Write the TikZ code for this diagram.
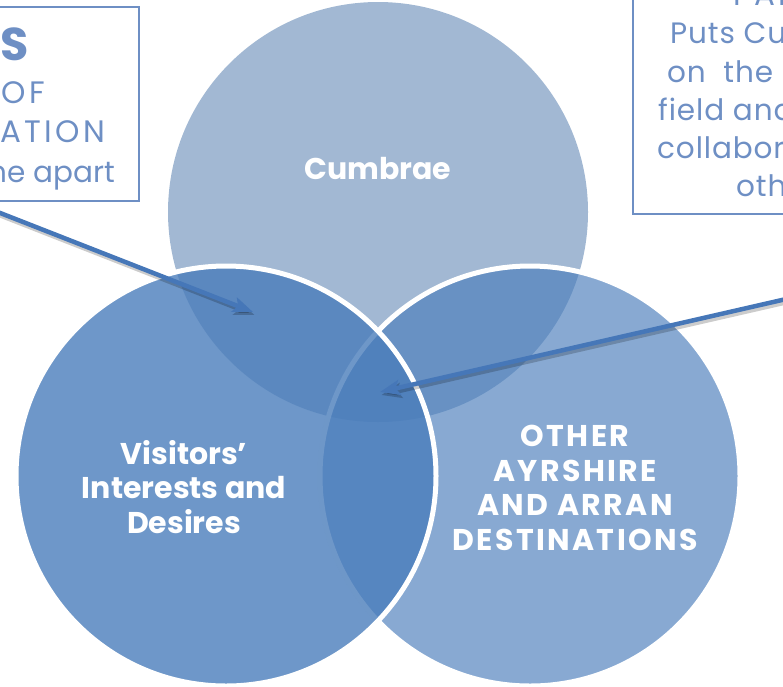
\documentclass[tikz,border=0pt]{standalone}
\usepackage{fontspec}
\setmainfont{Poppins}
\usetikzlibrary{arrows.meta}

\definecolor{vennblue}{HTML}{4A7DBB}
\definecolor{topblue}{HTML}{A2B8D3}
\definecolor{boxblue}{HTML}{6E8FC4}
\definecolor{arrowblue}{HTML}{4677B8}

\begin{document}
\begin{tikzpicture}[x=1pt,y=-1pt,
        set/.style={circle,minimum size=420pt,inner sep=0pt},
        title/.style={text=white,font=\bfseries\fontsize{30}{34.5}\selectfont,align=center},
        caps/.style={font=\bfseries\fontsize{30}{34.5}\selectfont\addfontfeatures{LetterSpace=8}},
        note/.style={draw=boxblue,line width=2pt},
        notetext/.style={text=boxblue,font=\fontsize{29.5}{38}\selectfont,inner sep=0pt},
        notewide/.style={notetext,font=\fontsize{29.5}{38}\selectfont\addfontfeatures{LetterSpace=3}},
        notecaps/.style={notetext,font=\fontsize{31}{38}\selectfont\addfontfeatures{LetterSpace=10}},
        pointer/.style={draw=arrowblue,line width=4.5pt,-{Stealth[length=20pt,width=15pt,inset=4pt]}},
        pointershadow/.style={pointer,draw=black,opacity=.2,transform canvas={shift={(1.5pt,-3pt)}}}]

    \useasboundingbox (0,0) rectangle (783,686);
    \clip (0,0) rectangle (783,686);

    % sets, back to front
    \node[set,fill=topblue] (cumbrae) at (378,212) {};
    \node[set,fill=vennblue,fill opacity=.66,draw=white,line width=5pt] (other) at (530,476) {};
    \node[set,fill=vennblue,fill opacity=.8,draw=white,line width=5pt] (visitors) at (226,476) {};

    \node[title,anchor=base] (cumbraelabel) at (378,179) {Cumbrae};
    \node[title,anchor=base] (visitorslabel) at (184,533) {Visitors’\\Interests and\\Desires};
    \node[title,caps,anchor=base] (otherlabel) at (575,550) {OTHER\\AYRSHIRE\\AND ARRAN\\DESTINATIONS};

    % note boxes, running off the edges
    \node[note,minimum width=340pt,minimum height=194pt,anchor=north east] (strengths) at (140,6) {};
    \node[note,minimum width=300pt,minimum height=260pt,anchor=south west] (partnership) at (632,215) {};

    \node[notetext,anchor=base east,font=\bfseries\fontsize{46}{46}\selectfont] (s1) at (29,60) {S};
    \node[notecaps,anchor=base east] (s2) at (45,103) {OF};
    \node[notecaps,anchor=base east] (s3) at (105,142) {ATION};
    \node[notetext,anchor=base east] (s4) at (115,182) {he apart};

    \node[notecaps,anchor=base west] (p1) at (733,5) {PAR};
    \node[notewide,anchor=base west] (p2) at (670,43) {Puts Cu};
    \node[notewide,anchor=base west] (p3) at (667,82) {on\ \ the};
    \node[notewide,anchor=base west] (p4) at (658,120) {field and};
    \node[notewide,anchor=base west] (p5) at (657,158) {collabor};
    \node[notewide,anchor=base west] (p6) at (736,196) {oth};

    % pointers into the overlaps
    \coordinate (tailleft) at (-33,200);
    \coordinate (headleft) at (253,312);
    \coordinate (tailright) at (830,289);
    \coordinate (headright) at (380,392);
    \draw[pointershadow] (tailleft) -- (headleft);
    \draw[pointershadow] (tailright) -- (headright);
    \draw[pointer] (tailleft) -- (headleft);
    \draw[pointer] (tailright) -- (headright);
\end{tikzpicture}
\end{document}
